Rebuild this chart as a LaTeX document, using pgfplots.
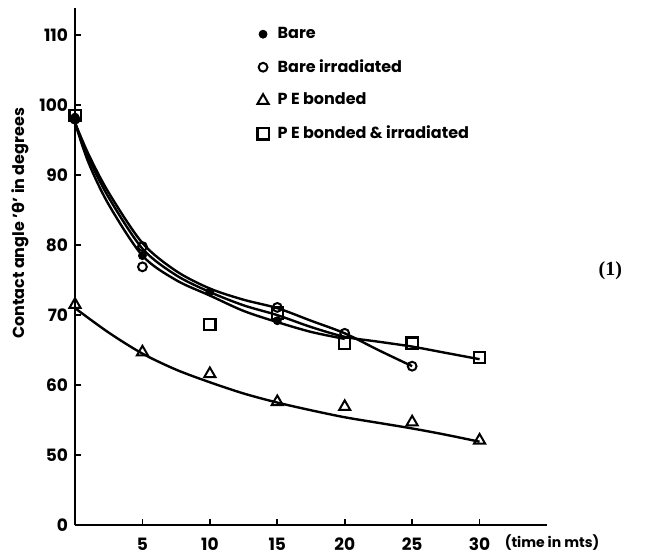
\documentclass[border=0pt]{standalone}
\usepackage{pgfplots}
\pgfplotsset{compat=1.18}
\usepackage{fontspec}
\setmainfont{Poppins}
\newfontfamily\dejavu{DejaVu Sans}
\newfontfamily\serifnum{Liberation Serif}

\begin{document}
\begin{tikzpicture}
\useasboundingbox (-37.5pt,-15pt) rectangle (286pt,262.5pt);
\begin{axis}[%
scale only axis,
width=236pt,
height=258.5pt,
xmin=0, xmax=35,
ymin=40, ymax=113.9,
axis x line*=bottom,
axis y line*=left,
axis line style={line width=1pt,-},
xtick={5,10,15,20,25,30},
ytick={40,50,60,70,80,90,100,110},
yticklabels={0,50,60,70,80,90,100,110},
tick align=inside,
major tick length=3pt,
tick style={line width=0.9pt,black},
tick label style={font=\fontsize{8.5}{10}\selectfont\bfseries},
xticklabel style={yshift=-3pt},
/pgf/number format/assume math mode=true,
clip=false,
legend style={at={(axis cs:13.5,111.8)}, anchor=north west, draw=none, fill=none,
  font=\fontsize{8}{9}\selectfont\bfseries, row sep=5pt, inner sep=0pt,
  /tikz/every odd column/.append style={column sep=2.5pt}},
legend cell align=left,
]
% fitted curves
\addplot [black, line width=1.2pt, smooth, forget plot] coordinates {
(0,97.5) (1,93) (2.5,87.5) (5,80.3) (7.5,76.3) (10,73.8) (12.5,72.2) (15,71) (17.5,69.2) (20,67.4) (22.5,65) (25,62.7)};
\addplot [black, line width=1.2pt, smooth, forget plot] coordinates {
(0,97.5) (1,92.5) (2.5,86.8) (5,79.5) (7.5,75.7) (10,73.3) (12.5,71.4) (15,70) (17.5,68.3) (20,66.9) (22.5,66.2) (25,65.5) (27.5,64.6) (30,63.7)};
\addplot [black, line width=1.2pt, smooth, forget plot] coordinates {
(0,97.5) (1,91.8) (2.5,85.8) (5,78.5) (7.5,75) (10,72.8) (12.5,70.6) (15,69) (17.5,67.6) (20,66.6)};
\addplot [black, line width=1.2pt, smooth, forget plot] coordinates {
(0,71) (2.5,67.5) (5,64.5) (7.5,62.2) (10,60.4) (12.5,58.8) (15,57.5) (17.5,56.4) (20,55.4) (22.5,54.6) (25,53.8) (27.5,52.9) (30,51.9)};

% measured points
\addplot [only marks, mark=*, mark size=2pt, mark options={fill=black, draw=black}] coordinates {
(0,98.3) (5,78.5) (10,73.3) (15,69.2)};
\addlegendentry{Bare}
\addplot [only marks, mark=o, mark size=2.2pt, mark options={draw=black, fill=white, line width=1pt}] coordinates {
(0,98) (5,79.8) (5,76.9) (15,71.1) (20,67.4) (25,62.7)};
\addlegendentry{Bare irradiated}
\addplot [only marks, mark=triangle, mark size=3.2pt, mark options={draw=black, fill=white, line width=1pt}] coordinates {
(0,71.5) (5,64.7) (10,61.6) (15,57.6) (20,56.9) (25,54.7) (30,52.1)};
\addlegendentry{P E bonded}
\addplot [only marks, mark=square, mark size=2.8pt, mark options={draw=black, fill=white, line width=1.1pt}] coordinates {
(0,98.5) (10,68.7) (15,70.3) (20,66.0) (25,66.0) (30,63.9)};
\addlegendentry{P E bonded \& irradiated}

\node [anchor=west, font=\fontsize{7}{8}\selectfont\bfseries, yshift=-9pt] at (axis cs:31.35,40) {(time in mts)};
\node [rotate=90, font=\fontsize{8}{9}\selectfont\bfseries] at ([xshift=-27.5pt]axis cs:0,83.1) {Contact angle '{\dejavu θ}' in degrees};
\node [font=\serifnum\fontsize{10}{12}\selectfont\bfseries] at (axis cs:39.7,76.4) {(1)};
\end{axis}
\end{tikzpicture}
\end{document}
